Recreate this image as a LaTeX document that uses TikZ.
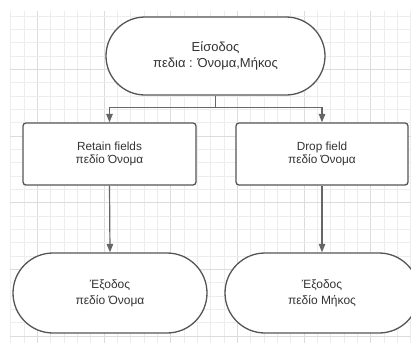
\documentclass[tikz,border=0pt]{standalone}
\usepackage{fontspec}
\setmainfont{Liberation Sans}
\usetikzlibrary{arrows.meta}
\definecolor{gridminor}{HTML}{EDEDED}
\definecolor{gridmajor}{HTML}{DCDCDC}
\definecolor{edge}{HTML}{555555}
\definecolor{wire}{HTML}{666666}
\definecolor{ink}{HTML}{333333}
\tikzset{
  terminal/.style={draw=edge, line width=1.3pt, fill=white, text=ink,
    align=center, inner sep=0pt},
  process/.style={draw=edge, line width=1.3pt, fill=white, text=ink,
    align=center, rounded corners=3pt, inner sep=0pt},
  flow/.style={draw=wire, line width=1.2pt,
    -{Triangle[width=6.5pt,length=8.5pt]}},
  bigtext/.style={font=\fontsize{13}{16}\selectfont},
  boxtext/.style={font=\fontsize{11.8}{12.5}\selectfont},
  outtext/.style={font=\fontsize{12}{16}\selectfont},
}
\begin{document}
\begin{tikzpicture}[x=1pt,y=-1pt]
\useasboundingbox (0,0) rectangle (411,343);
% background grid
\foreach \k in {0,...,30} {
  \pgfmathsetmacro{\gx}{10.67+13.333*\k}
  \pgfmathtruncatemacro{\maj}{mod(\k+3,5)==0}
  \ifnum\maj=1
    \draw[gridmajor, line width=0.7pt] (\gx,11) -- (\gx,343);
  \else
    \draw[gridminor, line width=0.7pt] (\gx,11) -- (\gx,343);
  \fi
}
\foreach \k in {1,...,25} {
  \pgfmathsetmacro{\gy}{2.7+13.333*\k}
  \pgfmathtruncatemacro{\maj}{mod(\k,5)==0}
  \ifnum\maj=1
    \draw[gridmajor, line width=0.7pt] (10,\gy) -- (411,\gy);
  \else
    \draw[gridminor, line width=0.7pt] (10,\gy) -- (411,\gy);
  \fi
}
% flowchart nodes
\node[terminal, bigtext, minimum width=219pt, minimum height=78pt,
  rounded corners=39pt] (in) at (215.5,56)
  {Είσοδος\\πεδια : Όνομα,Μήκος};
\node[process, boxtext, minimum width=173pt, minimum height=62pt]
  (retain) at (109.5,154) {Retain fields\\πεδίο Όνομα};
\node[process, boxtext, minimum width=172pt, minimum height=62pt]
  (drop) at (322,154) {Drop field\\πεδίο Όνομα};
\node[terminal, outtext, minimum width=194pt, minimum height=80pt,
  rounded corners=40pt] (outa) at (110,293) {Έξοδος\\πεδίο Όνομα};
\node[terminal, outtext, minimum width=194pt, minimum height=80pt,
  rounded corners=40pt] (outb) at (322,293) {Έξοδος\\πεδίο Μήκος};
% connectors
\coordinate (fork) at ([yshift=-12pt]in.south);
\draw[draw=wire, line width=1.2pt] (in.south) -- (fork);
\draw[flow] (fork) -| (retain.north);
\draw[flow] (fork) -| (drop.north);
\draw[flow] (retain.south) -- (outa.north);
\draw[flow] (drop.south) -- (outb.north);
\end{tikzpicture}
\end{document}
